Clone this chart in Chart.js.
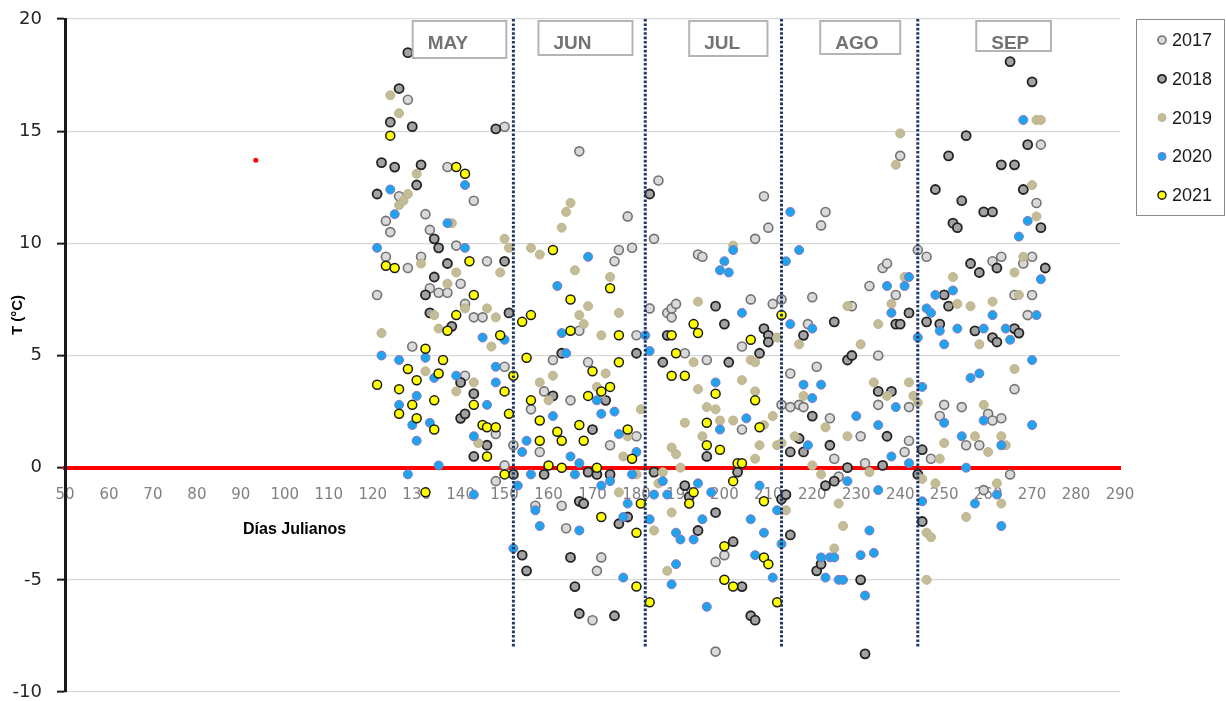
<!DOCTYPE html>
<html>
<head>
<meta charset="utf-8">
<script src="https://cdn.jsdelivr.net/npm/chart.js@4.4.1/dist/chart.umd.min.js"></script>
<style>
  html, body { margin: 0; padding: 0; background: #fff; }
  #wrap { position: relative; width: 1226px; height: 701px; }
</style>
</head>
<body>
<div id="wrap"><canvas id="temps"></canvas></div>
<script>
// values: [julian day, T (°C)]
var years = ['2017', '2018', '2019', '2020', '2021'];
var months = ['MAY', 'JUN', 'JUL', 'AGO', 'SEP'];
var monthStarts = [152, 182, 213, 244];
var guideTop = 20, guideBottom = -8;
var outlier = [[93.4, 13.7]];

var t2017 = [[121,7.7],[123,11.0],[123,9.4],[124,10.5],[126,12.1],[128,16.4],[128,8.9],[129,5.4],[131,9.4],[132,11.3],[133,10.6],[133,8.0],
  [135,7.8],[137,13.4],[137,7.8],[139,9.9],[140,8.2],[141,7.3],[141,4.1],[143,11.9],[143,6.7],[145,6.7],[146,9.2],[148,1.5],[148,-0.6],
  [150,15.2],[150,4.5],[150,0.1],[152,1.0],[156,2.6],[157,-1.7],[158,0.7],[159,3.4],[161,4.8],[163,-1.7],[164,-2.7],[165,3.0],[167,14.1],
  [167,6.1],[169,4.7],[170,-6.8],[171,-4.6],[172,-4.0],[174,1.0],[175,9.2],[176,9.7],[178,11.2],[179,9.8],[180,5.9],[180,1.4],[183,7.1],
  [184,10.2],[185,12.8],[187,6.9],[188,7.1],[188,6.7],[189,7.3],[191,5.1],[194,9.5],[195,9.4],[196,4.8],[198,-4.2],[198,-8.2],[200,-3.9],
  [204,5.4],[204,1.7],[206,7.5],[207,10.2],[209,12.1],[210,10.7],[211,7.3],[213,7.5],[213,2.8],[215,4.2],[215,2.7],[217,2.8],[218,2.7],
  [219,6.4],[220,7.6],[221,4.5],[222,10.8],[223,11.4],[224,2.2],[225,0.4],[226,-0.4],[229,7.2],[231,1.4],[232,0.2],[233,8.1],[235,5.0],
  [235,2.8],[236,8.9],[237,9.1],[239,7.7],[240,13.9],[241,0.7],[242,2.7],[242,1.2],[244,9.7],[246,9.4],[247,0.4],[249,2.3],[250,2.8],
  [254,2.7],[255,1.0],[258,1.0],[259,-1.0],[260,2.4],[261,9.2],[261,2.1],[263,9.4],[263,2.2],[265,-0.3],[266,7.7],[266,3.5],[268,9.1],
  [269,6.8],[270,9.4],[270,7.7],[271,11.8],[272,14.4]];

var t2018 = [[121,12.2],[122,13.6],[124,15.4],[125,13.4],[126,16.9],[128,18.5],[129,15.2],[130,12.6],[131,13.5],[132,7.7],[133,6.9],
  [134,8.5],[134,10.2],[135,9.8],[137,9.1],[138,6.3],[140,3.8],[140,2.2],[141,2.4],[143,3.3],[143,0.5],[146,1.0],[148,15.1],[150,9.2],
  [151,6.9],[152,-0.3],[154,-3.9],[155,-4.6],[159,-0.3],[161,3.2],[163,5.1],[165,-4.0],[166,-5.3],[167,-1.5],[167,-6.5],[168,-1.6],
  [169,-0.2],[170,1.7],[171,-0.3],[173,3.0],[174,-0.3],[175,-6.6],[176,-2.5],[178,-2.2],[180,5.1],[183,12.2],[184,-0.2],[186,4.7],
  [187,5.9],[191,-0.8],[192,-1.3],[194,-2.8],[196,0.5],[198,7.2],[198,-2.0],[200,6.4],[201,4.7],[202,-3.3],[203,-0.2],[204,-5.3],
  [206,-6.6],[207,-6.8],[208,5.1],[209,6.2],[210,5.9],[210,5.6],[213,-1.4],[214,-1.2],[215,0.7],[215,-3.0],[217,1.3],[218,5.9],[218,0.7],
  [220,2.3],[221,-4.6],[222,-4.3],[223,-0.8],[224,1.0],[225,6.5],[225,-0.6],[228,4.8],[228,0.0],[229,5.0],[231,-5.0],[232,-8.3],
  [235,3.4],[236,0.1],[237,1.4],[238,3.4],[239,6.4],[240,6.4],[242,6.9],[244,-0.3],[245,0.8],[245,-2.4],[246,6.5],[248,12.4],[249,6.4],
  [250,7.7],[251,13.9],[251,7.2],[252,10.9],[253,10.7],[254,11.9],[255,14.8],[256,9.1],[257,6.1],[258,8.7],[259,11.4],[261,11.4],
  [261,5.8],[262,8.9],[262,5.6],[263,13.5],[265,18.1],[266,13.5],[266,6.2],[267,6.0],[268,12.4],[269,14.4],[270,17.2],[272,10.7],[273,8.9]];

var t2019 = [[122,6.0],[124,16.6],[126,15.8],[126,11.7],[127,11.9],[128,12.2],[130,13.1],[131,9.1],[132,4.3],[134,6.8],[135,6.2],
  [137,8.2],[138,10.9],[139,8.7],[139,3.4],[141,7.1],[143,3.8],[144,1.1],[146,7.1],[147,5.4],[148,6.7],[149,8.7],[150,10.2],[151,9.8],
  [156,9.8],[158,9.5],[158,3.8],[160,3.0],[161,4.1],[163,10.7],[164,11.4],[165,11.8],[166,8.8],[167,6.8],[168,6.4],[169,7.2],[171,3.6],
  [172,5.9],[172,3.3],[173,4.2],[174,8.5],[176,6.9],[176,-1.1],[177,0.5],[178,1.4],[180,-0.3],[181,2.6],[184,-2.8],[185,-0.7],[186,-0.2],
  [187,-4.6],[188,-2.0],[188,0.9],[189,0.6],[190,0.0],[191,2.0],[193,4.7],[194,7.4],[194,3.5],[195,1.4],[196,2.7],[198,2.6],[199,2.1],
  [202,9.9],[202,2.1],[204,3.9],[206,4.8],[207,4.7],[207,3.4],[207,0.4],[208,1.0],[209,1.9],[211,2.3],[212,5.8],[212,1.0],[213,1.1],
  [214,-1.9],[216,1.4],[217,5.5],[218,3.2],[220,0.1],[222,-0.3],[223,1.8],[225,-3.6],[226,-1.6],[227,-2.6],[228,7.2],[228,1.4],[231,5.5],
  [233,-0.2],[234,3.8],[235,6.4],[237,3.2],[238,7.3],[239,13.5],[240,14.9],[241,8.5],[242,3.8],[243,3.2],[244,2.9],[245,-0.5],[246,-2.9],
  [246,-5.0],[247,-3.1],[248,-0.7],[249,0.4],[250,1.1],[252,8.5],[253,7.3],[255,-2.2],[256,7.2],[257,1.4],[258,5.5],[259,2.8],[260,0.7],
  [261,7.4],[262,-0.7],[263,1.4],[263,-1.6],[264,1.0],[266,8.7],[266,4.4],[267,7.7],[268,9.4],[270,12.6],[271,11.2],[271,15.5],[272,15.5]];

var t2020 = [[121,9.8],[122,5.0],[124,12.4],[125,11.3],[126,4.8],[126,2.8],[128,-0.3],[129,1.9],[130,3.2],[130,1.2],[132,4.9],[133,2.0],
  [134,4.0],[135,0.1],[137,10.9],[139,4.1],[141,12.6],[141,9.8],[143,1.4],[143,-1.2],[145,5.8],[146,2.8],[148,4.5],[148,3.8],[150,5.7],
  [152,-3.6],[153,-0.8],[154,0.7],[155,1.2],[156,-0.3],[157,-1.9],[158,-2.6],[161,2.3],[162,8.1],[163,6.0],[164,5.1],[165,0.5],[166,-0.3],
  [167,0.2],[167,-2.8],[169,9.4],[171,3.0],[172,2.4],[172,-0.8],[174,-0.6],[175,2.5],[176,1.5],[177,-2.2],[177,-4.9],[178,-1.6],[179,-0.3],
  [180,0.7],[182,5.9],[183,5.2],[183,-2.3],[184,-1.2],[186,-0.6],[187,-1.2],[188,-5.2],[189,-2.9],[189,-4.3],[190,-3.2],[193,-3.2],
  [194,-0.7],[195,-2.3],[196,-6.2],[197,-1.1],[198,3.8],[199,8.8],[199,1.7],[200,9.2],[201,8.7],[202,9.7],[204,6.9],[205,2.2],[206,-2.3],
  [207,-3.9],[208,-0.8],[209,-2.9],[211,-4.9],[212,-1.9],[213,-3.4],[214,9.2],[215,11.4],[215,6.4],[217,9.7],[218,3.7],[219,1.0],[220,6.2],
  [220,3.1],[222,3.7],[222,-4.0],[223,-4.9],[224,-4.0],[225,-4.0],[226,-5.0],[227,-5.0],[228,-0.6],[230,2.3],[231,-3.9],[232,-5.7],
  [233,-2.8],[234,-3.8],[235,1.9],[235,-1.0],[237,8.1],[238,6.9],[238,0.5],[239,2.7],[241,8.1],[242,8.5],[242,0.2],[244,5.8],[245,3.6],
  [245,-1.5],[246,7.1],[247,6.9],[248,7.7],[249,6.1],[250,5.5],[250,2.0],[252,7.9],[253,6.2],[254,1.4],[255,0.0],[256,4.0],[257,-1.6],
  [258,4.2],[259,6.2],[259,2.1],[261,6.8],[262,-1.2],[263,1.0],[263,-2.6],[264,6.2],[265,5.7],[267,10.3],[268,15.5],[269,11.0],[270,4.8],
  [270,1.9],[271,6.8],[272,8.4]];

var t2021 = [[121,3.7],[123,9.0],[124,14.8],[125,8.9],[126,3.5],[126,2.4],[128,4.4],[129,2.8],[130,3.9],[130,2.2],[132,5.3],[132,-1.1],
  [134,3.0],[134,1.7],[135,4.2],[136,4.8],[137,6.1],[139,13.4],[139,6.8],[141,13.1],[142,9.2],[143,7.7],[143,2.8],[145,1.9],[146,1.8],
  [146,0.5],[148,1.8],[149,5.9],[150,3.4],[150,-0.3],[151,2.4],[152,4.1],[154,6.5],[155,4.9],[156,6.8],[156,3.0],[158,2.1],[158,1.2],
  [160,0.1],[161,9.7],[162,1.6],[163,1.2],[163,0.0],[165,7.5],[165,6.1],[167,1.9],[168,1.2],[169,3.2],[170,4.3],[171,0.0],[172,3.4],
  [172,-2.2],[174,8.0],[174,3.6],[176,5.9],[176,4.7],[178,1.7],[179,0.4],[180,-2.9],[180,-5.3],[181,-1.6],[183,-6.0],[188,5.9],[188,4.1],
  [189,5.1],[191,4.1],[192,-1.6],[193,6.4],[193,-1.1],[194,6.0],[196,2.0],[196,1.0],[198,3.3],[199,0.8],[200,-3.5],[200,-5.0],[202,-0.6],
  [202,-5.3],[203,0.2],[204,0.2],[206,5.7],[207,3.0],[208,1.8],[209,-1.5],[209,-4.0],[210,-4.3],[212,-6.0],[213,6.8]];

var series = [t2017, t2018, t2019, t2020, t2021];

// look of each year (fill, edge)
var yearStyles = [
  {fill: '#d9d9d9', line: '#737373', width: 1.6},
  {fill: '#a3a3a3', line: '#222222', width: 1.8},
  {fill: '#c4bc96', line: '#bcb48d', width: 1},
  {fill: '#1ea4ec', line: '#8a74c0', width: 1},
  {fill: '#ffff00', line: '#1a1a1a', width: 1.5}
];

// month label boxes: day span + box height in px
var monthBoxes = [[129.1, 150.4, 37], [157.7, 179.1, 34], [192.0, 209.8, 35], [221.8, 240.0, 33], [257.3, 274.3, 30]];

var datasets = series.map(function(pts, i) {
  return {
    label: years[i],
    data: pts.map(function(p) { return {x: p[0], y: p[1]}; }),
    backgroundColor: yearStyles[i].fill,
    borderColor: yearStyles[i].line,
    borderWidth: yearStyles[i].width,
    pointRadius: 4.5,
    order: 10 - i
  };
});

datasets.push({
  label: '',
  data: outlier.map(function(p) { return {x: p[0], y: p[1]}; }),
  backgroundColor: '#ff0000',
  borderWidth: 0,
  pointRadius: 2.5,
  order: 1
});

monthStarts.forEach(function(d) {
  datasets.push({
    label: '',
    data: [{x: d, y: guideTop}, {x: d, y: guideBottom}],
    showLine: true,
    borderColor: '#1f3864',
    borderWidth: 3,
    borderDash: [2.6, 1.8],
    pointRadius: 0,
    order: 0
  });
});

// month boxes, axis titles and the boxed legend
var extras = {
  id: 'extras',
  afterDraw: function(chart) {
    var ctx = chart.ctx;
    var xs = chart.scales.x;
    var top = chart.scales.y.getPixelForValue(20) + 2;
    ctx.save();

    monthBoxes.forEach(function(b, i) {
      var l = xs.getPixelForValue(b[0]);
      var r = xs.getPixelForValue(b[1]);
      ctx.fillStyle = '#ffffff';
      ctx.fillRect(l, top, r - l, b[2]);
      ctx.strokeStyle = '#b4b4b4';
      ctx.lineWidth = 2;
      ctx.strokeRect(l, top, r - l, b[2]);
      ctx.fillStyle = '#737373';
      ctx.font = 'bold 19px "Liberation Sans"';
      ctx.textAlign = 'left';
      ctx.textBaseline = 'middle';
      ctx.fillText(months[i], l + 15, 44);
    });

    ctx.fillStyle = '#000';
    ctx.font = 'bold 16px "Liberation Sans"';
    ctx.textAlign = 'left';
    ctx.textBaseline = 'middle';
    ctx.fillText('Días Julianos', 243, 530);

    ctx.save();
    ctx.translate(18, 315);
    ctx.rotate(-Math.PI / 2);
    ctx.textAlign = 'center';
    ctx.font = 'bold 15px "Liberation Sans"';
    ctx.fillText('T (°C)', 0, 0);
    ctx.restore();

    // legend
    ctx.strokeStyle = '#8c8c8c';
    ctx.lineWidth = 1;
    ctx.strokeRect(1136.5, 19.5, 88, 196);
    years.forEach(function(y, i) {
      var cy = 40 + i * 38.8;
      ctx.beginPath();
      ctx.arc(1162, cy, 4, 0, Math.PI * 2);
      ctx.fillStyle = yearStyles[i].fill;
      ctx.fill();
      ctx.lineWidth = yearStyles[i].width;
      ctx.strokeStyle = yearStyles[i].line;
      ctx.stroke();
      ctx.fillStyle = '#1a1a1a';
      ctx.font = '18px "Liberation Sans"';
      ctx.textAlign = 'left';
      ctx.textBaseline = 'middle';
      ctx.fillText(y, 1172, cy + 1);
    });
    ctx.restore();
  }
};

Chart.defaults.font.family = '"DejaVu Sans"';
var chart = new Chart('temps', {
  type: 'scatter',
  data: { datasets: datasets },
  plugins: [extras],
  options: {
    responsive: true,
    maintainAspectRatio: false,
    animation: false,
    events: [],
    layout: { padding: { left: 0, top: 19, right: 106, bottom: 9 } },
    plugins: {
      legend: { display: false },
      tooltip: { enabled: false }
    },
    scales: {
      x: {
        type: 'linear',
        position: { y: 0 },
        min: 50,
        max: 290,
        ticks: {
          stepSize: 10,
          autoSkip: false,
          maxRotation: 0,
          color: '#808080',
          padding: 18,
          font: { size: 15 }
        },
        grid: { display: false, drawTicks: false },
        border: { color: '#ff0000', width: 4 }
      },
      y: {
        min: -10,
        max: 20,
        ticks: {
          stepSize: 5,
          color: '#262626',
          padding: 15,
          font: { size: 18 }
        },
        grid: { color: '#d9d9d9', lineWidth: 1.3, tickColor: '#1a1a1a', tickWidth: 2, tickLength: 8 },
        border: { color: '#1a1a1a', width: 3 },
        afterFit: function(scale) {
          scale.width = 65;
          scale.paddingTop = 0;
          scale.paddingBottom = 0;
        }
      }
    }
  }
});
</script>
</body>
</html>
